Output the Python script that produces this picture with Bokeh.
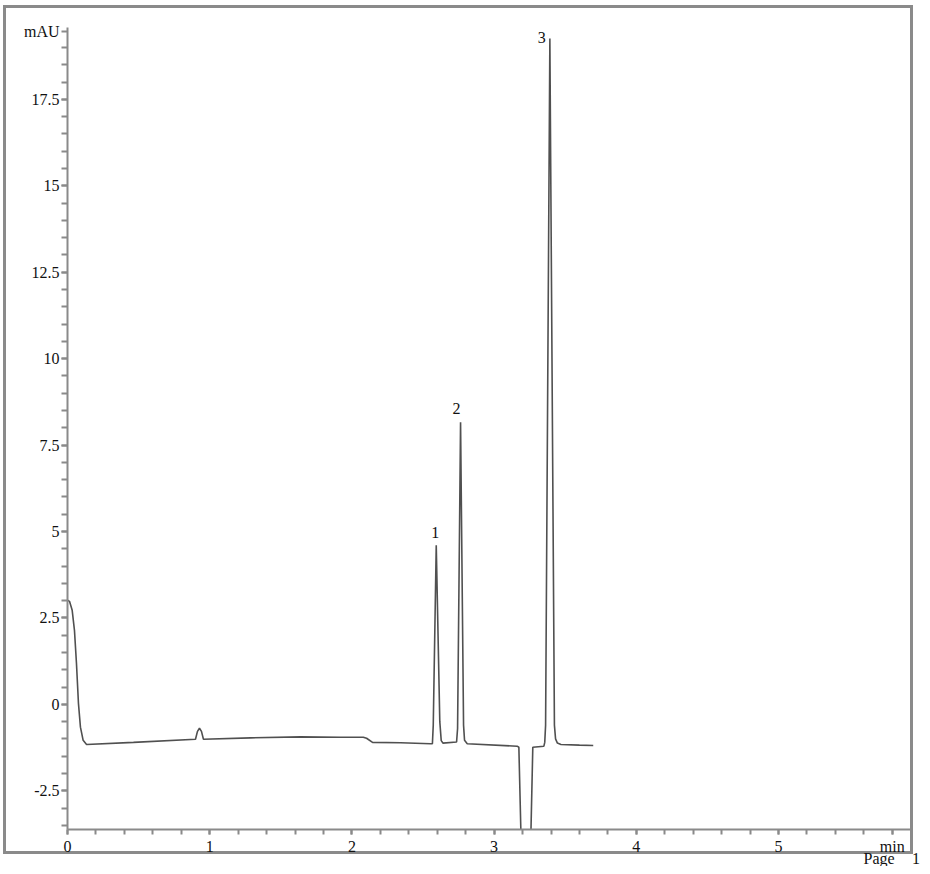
from bokeh.plotting import figure
from bokeh.models import Range1d, FixedTicker, Title
from bokeh.core.properties import value
from bokeh.embed import file_html
from bokeh.resources import INLINE

# ---- data ----
time_min = [0.000, 0.014, 0.033, 0.049, 0.063, 0.077, 0.091, 0.110, 0.134, 0.464,
            0.900, 0.914, 0.928, 0.942, 0.956, 1.287, 1.639, 1.920, 2.080, 2.103,
            2.145, 2.342, 2.553, 2.566, 2.572, 2.593, 2.618, 2.628, 2.640, 2.736,
            2.743, 2.764, 2.785, 2.792, 2.811, 3.162, 3.174, 3.225, 3.272, 3.350,
            3.356, 3.362, 3.392, 3.424, 3.432, 3.445, 3.470, 3.600, 3.697]
signal_mau = [3.01, 2.98, 2.72, 2.14, 1.19, 0.03, -0.66, -1.04, -1.16, -1.10,
              -1.01, -0.78, -0.69, -0.78, -1.01, -0.97, -0.94, -0.95, -0.95, -0.98,
              -1.10, -1.11, -1.14, -1.14, -0.60, 4.60, -0.50, -1.05, -1.12, -1.09,
              -0.70, 8.16, -0.60, -1.04, -1.14, -1.21, -1.24, -10.0, -1.24, -1.21,
              -1.10, -0.60, 19.26, -0.60, -1.00, -1.12, -1.16, -1.18, -1.19]

peak_ids = ["1", "2", "3"]
peak_times = [2.593, 2.764, 3.392]
peak_heights = [4.60, 8.16, 19.26]

x_ticks = [0, 1, 2, 3, 4, 5, 5.8]
x_tick_labels = ["0", "1", "2", "3", "4", "5", "min"]
x_minor_ticks = [round(i * 0.2, 1) for i in range(0, 30)]

y_ticks = [-2.5, 0, 2.5, 5, 7.5, 10, 12.5, 15, 17.5, 19.45]
y_tick_labels = ["-2.5", "0", "2.5", "5", "7.5", "10", "12.5", "15", "17.5", "mAU"]
y_minor_ticks = [round(-3.5 + i * 0.5, 1) for i in range(0, 46)]

page_text = "Page\u2003\u200a1"

FONT = "Liberation Serif"
AXIS_GRAY = "#8a8a8a"
TEXT = "#111111"

W, H = 922, 866

# outer page frame drawn as a CSS background behind the (transparent) canvas
g = "linear-gradient(%s,%s)" % (AXIS_GRAY, AXIS_GRAY)
frame_css = {
    "background-color": "white",
    "background-image": ", ".join([g] * 4),
    "background-size": "910px 3px, 910px 3px, 3px 849px, 3px 849px",
    "background-position": "3px 5px, 3px 851px, 3px 5px, 910px 5px",
    "background-repeat": "no-repeat",
}

p = figure(width=W, height=H, output_backend="svg", toolbar_location=None,
           x_range=Range1d(0, 5.935), y_range=Range1d(-3.62, 19.58),
           min_border_left=67, min_border_right=11, min_border_top=27,
           min_border_bottom=37, background_fill_color=None,
           border_fill_color=None, styles=frame_css)
p.xgrid.visible = False
p.ygrid.visible = False
p.outline_line_color = None

xa = p.xaxis[0]
xa.ticker = FixedTicker(ticks=x_ticks, minor_ticks=x_minor_ticks)
xa.major_label_overrides = dict(zip(x_ticks, x_tick_labels))
xa.major_tick_in = 0
xa.major_tick_out = 5
xa.minor_tick_in = 0
xa.minor_tick_out = 5
xa.major_label_standoff = 3

ya = p.yaxis[0]
ya.ticker = FixedTicker(ticks=y_ticks, minor_ticks=y_minor_ticks)
ya.major_label_overrides = dict(zip(y_ticks, y_tick_labels))
ya.major_tick_in = 0
ya.major_tick_out = 6
ya.minor_tick_in = 0
ya.minor_tick_out = 6
ya.major_label_standoff = 2

for ax in (xa, ya):
    ax.axis_line_color = AXIS_GRAY
    ax.axis_line_width = 2
    ax.major_tick_line_color = AXIS_GRAY
    ax.major_tick_line_width = 2
    ax.minor_tick_line_color = AXIS_GRAY
    ax.minor_tick_line_width = 2
    ax.major_label_text_font = FONT
    ax.major_label_text_font_size = "16px"
    ax.major_label_text_color = TEXT

# trace
p.line(time_min, signal_mau, line_color="#505050", line_width=1.6)

# peak numbers
p.text(x=peak_times, y=peak_heights, text=peak_ids,
       x_offset=[-1, -4, -8], y_offset=[-13, -14, -1],
       text_align="center", text_baseline="middle",
       text_font=value(FONT), text_font_size="16px", text_color=TEXT)

# "Page 1" footer below the axis
page_title = Title(text=page_text, align="left", offset=796,
                   vertical_align="middle", standoff=-17,
                   text_font=FONT, text_font_size="16px",
                   text_font_style="normal", text_color=TEXT)
p.add_layout(page_title, "below")

open("out.html", "w").write(file_html(p, INLINE))
